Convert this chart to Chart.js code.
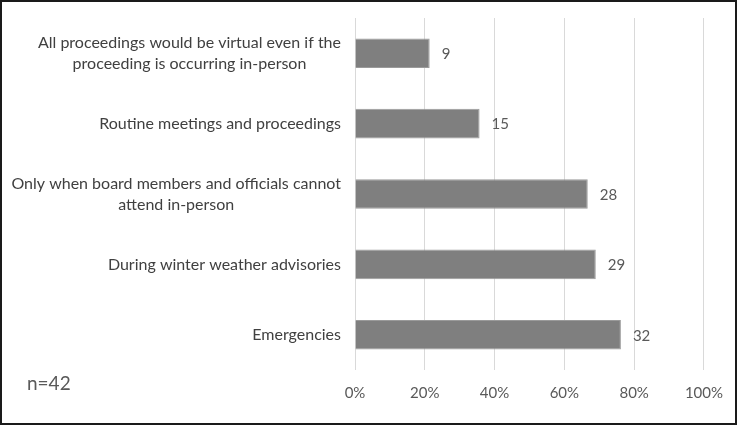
<!DOCTYPE html>
<html>
<head>
<meta charset="utf-8">
<script src="https://cdn.jsdelivr.net/npm/chart.js@4/dist/chart.umd.min.js"></script>
<style>
  html, body { margin: 0; padding: 0; background: #fff; }
  #wrap { position: relative; width: 737px; height: 425px; }
  #frame { position: absolute; left: 0; top: 0; width: 737px; height: 425px; box-sizing: border-box; border: 2px solid #1a1a1a; pointer-events: none; }
  #n { position: absolute; left: 27px; top: 371px; font: 19px Lato, "Open Sans", sans-serif; color: #595959; }
</style>
</head>
<body>
<div id="wrap">
  <canvas id="c" width="737" height="425"></canvas>
  <div id="n">n=42</div>
  <div id="frame"></div>
</div>
<script>
const categories = [
  ["All proceedings would be virtual even if the", "proceeding is occurring in-person"],
  "Routine meetings and proceedings",
  ["Only when board members and officials cannot", "attend in-person"],
  "During winter weather advisories",
  "Emergencies"
];
const percentValues = [21.4, 35.7, 66.7, 69.0, 76.2];
const countLabels = ["9", "15", "28", "29", "32"];
const xTicks = [0, 20, 40, 60, 80, 100];

const labelFont = 'Lato, "Open Sans", sans-serif';

const dataLabelPlugin = {
  id: 'dataLabels',
  afterDatasetsDraw(chart) {
    const ctx = chart.ctx;
    const meta = chart.getDatasetMeta(0);
    ctx.save();
    ctx.font = '15px ' + labelFont;
    ctx.fillStyle = '#595959';
    ctx.textAlign = 'left';
    ctx.textBaseline = 'middle';
    meta.data.forEach((bar, i) => {
      ctx.fillText(countLabels[i], bar.x + 12, bar.y + 1);
    });
    ctx.restore();
  }
};

// Category labels: multi-line blocks with lines centred on each other, block right-aligned to the axis
const categoryLabelPlugin = {
  id: 'categoryLabels',
  afterDraw(chart) {
    const ctx = chart.ctx;
    const yScale = chart.scales.y;
    const rightEdge = yScale.right - 14;
    const lineH = 21;
    ctx.save();
    ctx.font = '16px ' + labelFont;
    ctx.fillStyle = '#404040';
    ctx.textAlign = 'center';
    ctx.textBaseline = 'middle';
    categories.forEach((lab, i) => {
      const lines = Array.isArray(lab) ? lab : [lab];
      const maxW = Math.max(...lines.map(l => ctx.measureText(l).width));
      const cx = rightEdge - maxW / 2;
      const cy = yScale.getPixelForValue(i);
      const y0 = cy - (lines.length - 1) * lineH / 2;
      lines.forEach((l, j) => ctx.fillText(l, cx, y0 + j * lineH));
    });
    ctx.restore();
  }
};

new Chart(document.getElementById('c'), {
  type: 'bar',
  data: {
    labels: categories,
    datasets: [{
      data: percentValues,
      backgroundColor: '#7f7f7f',
      borderColor: '#9a9a9a',
      borderWidth: 1,
      barPercentage: 0.84,
      categoryPercentage: 0.5
    }]
  },
  options: {
    indexAxis: 'y',
    responsive: false,
    animation: false,
    layout: { padding: { left: 0, right: 31, top: 18, bottom: 9 } },
    plugins: { legend: { display: false }, tooltip: { enabled: false } },
    scales: {
      x: {
        min: 0, max: 100,
        afterBuildTicks(scale) { scale.ticks = xTicks.map(v => ({ value: v })); },
        ticks: {
          callback: v => v + '%',
          color: '#595959',
          font: { size: 15, family: labelFont },
          padding: 14,
          maxRotation: 0
        },
        grid: { color: '#d9d9d9', drawTicks: false, lineWidth: 1 },
        border: { display: false }
      },
      y: {
        afterFit(scale) { scale.width = 355; },
        ticks: { display: false },
        grid: { display: false, drawTicks: false },
        border: { display: false }
      }
    }
  },
  plugins: [dataLabelPlugin, categoryLabelPlugin]
});
</script>
</body>
</html>
